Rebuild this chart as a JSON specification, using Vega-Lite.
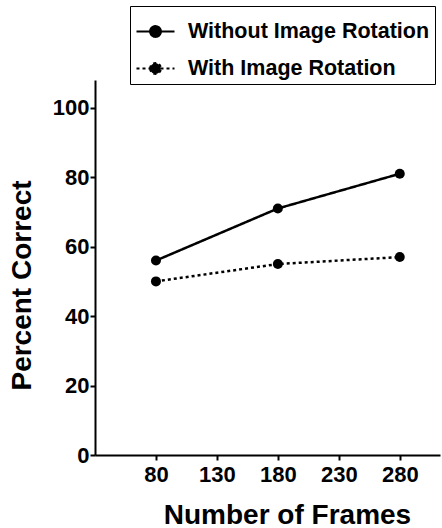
{
  "$schema": "https://vega.github.io/schema/vega-lite/v6.json",
  "autosize": {"type": "none"},
  "width": 345,
  "height": 375,
  "padding": {"left": 95, "top": 80, "right": 2, "bottom": 73},
  "background": "white",
  "config": {
    "view": {"stroke": null},
    "font": "Liberation Sans",
    "axis": {
      "grid": false,
      "domainColor": "black",
      "domainWidth": 2,
      "tickColor": "black",
      "tickWidth": 2,
      "tickSize": 5,
      "labelFont": "Liberation Sans",
      "labelFontWeight": "bold",
      "labelFontSize": 22,
      "labelColor": "black",
      "titleFont": "Liberation Sans",
      "titleFontWeight": "bold",
      "titleFontSize": 28,
      "titleColor": "black"
    }
  },
  "data": {
    "values": [
      {"frames": 80, "pct": 56, "series": "Without Image Rotation"},
      {"frames": 180, "pct": 71, "series": "Without Image Rotation"},
      {"frames": 280, "pct": 81, "series": "Without Image Rotation"},
      {"frames": 80, "pct": 50, "series": "With Image Rotation"},
      {"frames": 180, "pct": 55, "series": "With Image Rotation"},
      {"frames": 280, "pct": 57, "series": "With Image Rotation"}
    ]
  },
  "encoding": {
    "x": {
      "field": "frames",
      "type": "quantitative",
      "scale": {"domain": [30, 313], "nice": false, "zero": false},
      "axis": {"values": [80, 130, 180, 230, 280], "title": "Number of Frames", "labelFontSize": 22, "labelPadding": 4, "titlePadding": 16, "titleX": 192, "titleAlign": "center"}
    },
    "y": {
      "field": "pct",
      "type": "quantitative",
      "scale": {"domain": [0, 108], "nice": false},
      "axis": {"values": [0, 20, 40, 60, 80, 100], "title": "Percent Correct", "labelFontSize": 22, "labelPadding": 1, "titlePadding": 16, "titleY": 205, "titleAlign": "center"}
    }
  },
  "layer": [
    {
      "mark": {"type": "line", "color": "black", "strokeWidth": 2.5},
      "encoding": {
        "strokeDash": {
          "field": "series",
          "type": "nominal",
          "scale": {"domain": ["Without Image Rotation", "With Image Rotation"], "range": [[1, 0], [3, 3]]},
          "legend": {
            "title": null,
            "orient": "none",
            "legendX": 35,
            "legendY": -74,
            "direction": "vertical",
            "strokeColor": "black",
            "fillColor": "white",
            "padding": 5,
            "rowPadding": 6,
            "symbolType": "M-1,0H1M-0.28,0A0.28,0.28,0,1,1,0.28,0A0.28,0.28,0,1,1,-0.28,0Z",
            "symbolSize": 1444,
            "symbolStrokeWidth": 2.2,
            "symbolStrokeColor": "black",
            "symbolFillColor": "black",
            "symbolOpacity": 1,
            "labelFont": "Liberation Sans",
            "labelFontWeight": "bold",
            "labelFontSize": 21.5,
            "labelColor": "black",
            "labelOffset": 12,
            "labelLimit": 400
          }
        }
      }
    },
    {
      "mark": {"type": "point", "filled": true, "color": "black", "size": 100, "opacity": 1},
      "encoding": {}
    }
  ]
}
